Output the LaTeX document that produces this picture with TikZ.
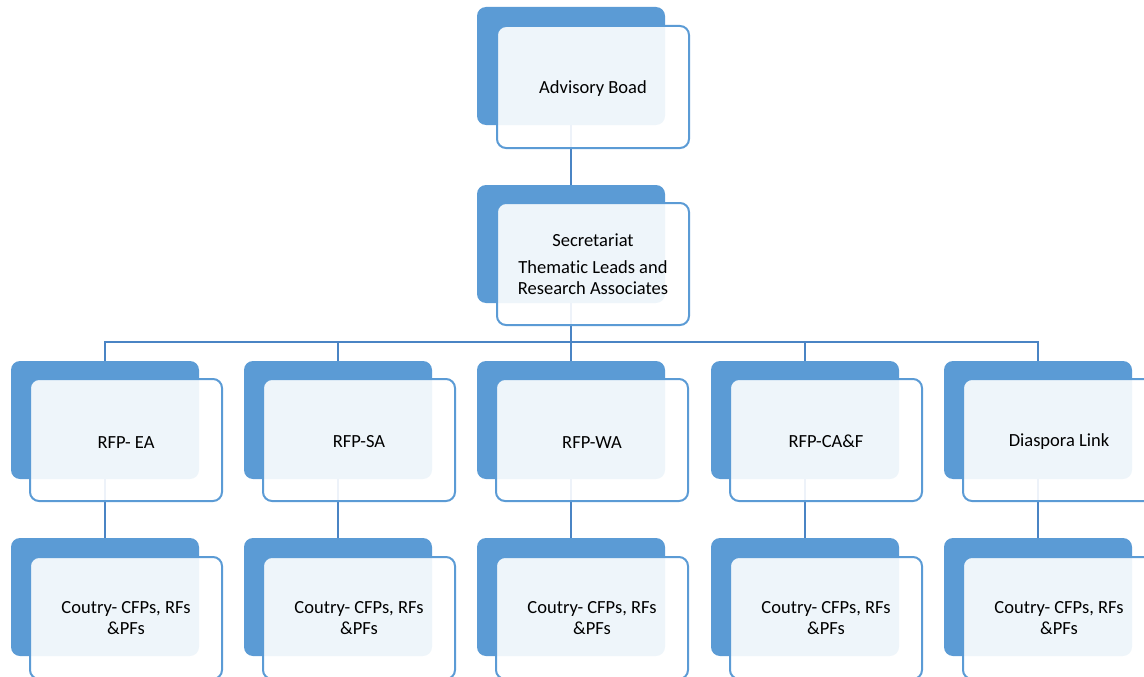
\documentclass[tikz,border=0pt]{standalone}
\usepackage{fontspec}
\setmainfont{Carlito}[Ligatures=NoCommon]
\definecolor{accblue}{HTML}{5B9BD5}
\definecolor{linkblue}{HTML}{4A84C4}
\begin{document}
\begin{tikzpicture}[x=1pt,y=-1pt,
  backbox/.style={draw=none,fill=accblue,rounded corners=9pt,minimum width=188pt,minimum height=118pt,anchor=north west,inner sep=0pt,outer sep=0pt},
  frontbox/.style={draw=accblue,line width=2pt,fill=white,fill opacity=0.9,text opacity=1,rounded corners=9pt,minimum width=192pt,minimum height=122pt,anchor=north west,inner sep=0pt,outer sep=0pt,align=center,font=\fontsize{18.5}{20.5}\selectfont,text=black},
  link/.style={draw=linkblue,line width=2.4pt}]
\useasboundingbox (0,0) rectangle (1144,677);
% back boxes
\node[backbox] (advb) at (477,7) {};
\node[backbox] (secb) at (477,185) {};
\foreach \i/\cx in {1/105,2/338,3/571,4/805,5/1038}{
  \node[backbox] (rb\i) at (\cx-94,361) {};
  \node[backbox] (cb\i) at (\cx-94,538) {};
}
% connectors
\coordinate (bus) at (571,342);
\draw[link] (advb.south) -- (secb.north);
\foreach \i in {1,...,5}{
  \draw[link] (secb.south) -- (bus) -| (rb\i.north);
  \draw[link] (rb\i.south) -- (cb\i.north);
}
% front boxes
\node[frontbox] (advf) at (497,26) {\rule{0pt}{16pt}Advisory Boad};
\node[frontbox] (secf) at (497,203) {Secretariat\\[7pt]Thematic Leads and\\Research Associates};
\foreach \i/\cx/\t in {1/105/{RFP- EA},2/338/{RFP-SA},3/571/{RFP-WA},4/805/{RFP-CA\&F},5/1038/{Diaspora Link}}{
  \node[frontbox] (rf\i) at (\cx-75,379) {\rule{0pt}{16pt}\t};
  \node[frontbox] (cf\i) at (\cx-75,557) {Coutry- CFPs, RFs\\\&PFs};
}
\end{tikzpicture}
\end{document}
